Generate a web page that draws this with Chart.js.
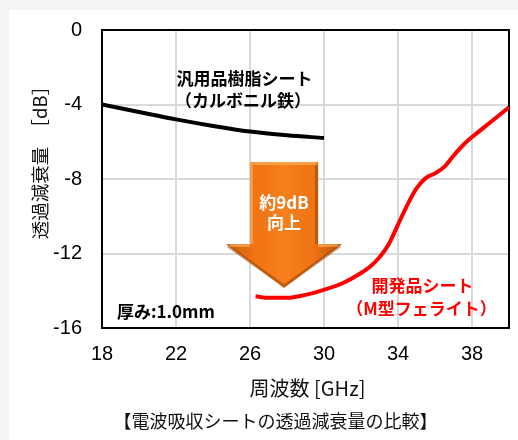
<!DOCTYPE html>
<html><head><meta charset="utf-8">
<script src="https://cdn.jsdelivr.net/npm/chart.js@4.4.1/dist/chart.umd.min.js"></script>
<style>
html,body{margin:0;padding:0;background:#f4f4f4;width:518px;height:440px;overflow:hidden;}
#card{position:absolute;left:9px;top:10px;width:509px;height:430px;background:#fff;}
canvas{display:block}
</style></head><body>
<div id="card"><canvas id="c" width="509" height="430"></canvas></div>
<script>
// ---- data ----
const xTicks = [18, 22, 26, 30, 34, 38];
const yTicks = [0, -4, -8, -12, -16];
const resinFreq = [18, 20, 22, 24, 26, 28, 30];
const resinDb   = [-4.0, -4.4, -4.8, -5.15, -5.45, -5.65, -5.8];
const ferriteFreq = [26.3, 27, 28, 29, 30, 31, 32, 32.5, 33, 33.5, 34, 34.5, 35, 35.5, 36, 36.5, 37, 37.5, 38, 38.5, 39, 39.5, 40];
const ferriteDb   = [-14.3, -14.38, -14.38, -14.22, -13.95, -13.6, -13.05, -12.7, -12.2, -11.5, -10.45, -9.4, -8.5, -7.95, -7.7, -7.35, -6.75, -6.2, -5.75, -5.35, -4.95, -4.55, -4.15];
const seriesNames = ['汎用品樹脂シート（カルボニル鉄）', '開発品シート（M型フェライト）'];
const xTitle = '周波数 [GHz]';
const yTitle = '透過減衰量　［dB］';
const caption = '【電波吸収シートの透過減衰量の比較】';

// annotation texts (data coordinates)
const notes = [
  {t:'汎用品樹脂シート', x:25.70, y:-2.63, c:'#000', a:'center'},
  {t:'（カルボニル鉄）', x:25.62, y:-3.81, c:'#000', a:'center'},
  {t:'開発品シート', x:35.32, y:-13.72, c:'#ff0000', a:'center'},
  {t:'（M型フェライト）', x:35.27, y:-14.95, c:'#ff0000', a:'center'},
  {t:'厚み:1.0mm', x:18.81, y:-15.11, c:'#000', a:'left'},
  {t:'約9dB', x:27.84, y:-9.29, c:'#fff', a:'center'},
  {t:'向上', x:27.84, y:-10.34, c:'#fff', a:'center'}
];
const arrowGeom = {x0:26.0, x1:29.68, hx0:24.70, hx1:30.97, tipX:27.84, top:-7.09, shoulder:-11.49, tip:-13.85};

const JP = '"Noto Sans CJK JP", "Noto Sans", sans-serif';

const framePlugin = {
  id:'frame',
  beforeDatasetsDraw(chart){
    const {ctx, chartArea:a} = chart;
    ctx.save();
    ctx.strokeStyle = '#000'; ctx.lineWidth = 2;
    ctx.beginPath();
    ctx.moveTo(a.left, a.top); ctx.lineTo(a.right, a.top); ctx.lineTo(a.right, a.bottom);
    ctx.stroke();
    ctx.restore();
  }
};

const arrowPlugin = {
  id:'arrow',
  afterDatasetsDraw(chart){
    const {ctx} = chart; const xs = chart.scales.x, ys = chart.scales.y;
    const g = arrowGeom;
    const X = v => xs.getPixelForValue(v), Y = v => ys.getPixelForValue(v);
    const x0=X(g.x0), x1=X(g.x1), hx0=X(g.hx0), hx1=X(g.hx1), tx=X(g.tipX);
    const top=Y(g.top), sh=Y(g.shoulder), tip=Y(g.tip);
    ctx.save();
    const grad = ctx.createLinearGradient(hx0, 0, hx1, 0);
    grad.addColorStop(0, '#c85a08');
    grad.addColorStop(0.25, '#ef7414');
    grad.addColorStop(0.5, '#f77f1c');
    grad.addColorStop(0.75, '#ef7414');
    grad.addColorStop(1, '#b95206');
    ctx.beginPath();
    ctx.moveTo(x0, top); ctx.lineTo(x1, top); ctx.lineTo(x1, sh); ctx.lineTo(hx1, sh);
    ctx.lineTo(tx, tip); ctx.lineTo(hx0, sh); ctx.lineTo(x0, sh); ctx.closePath();
    ctx.fillStyle = grad; ctx.fill();
    ctx.lineWidth = 3;
    ctx.strokeStyle = 'rgba(255,190,110,0.55)';
    ctx.beginPath(); ctx.moveTo(x0+1.5, sh); ctx.lineTo(x0+1.5, top+1.5); ctx.lineTo(x1-1.5, top+1.5); ctx.stroke();
    ctx.beginPath(); ctx.moveTo(hx0+3, sh+1.5); ctx.lineTo(x0, sh+1.5); ctx.stroke();
    ctx.beginPath(); ctx.moveTo(x1, sh+1.5); ctx.lineTo(hx1-3, sh+1.5); ctx.stroke();
    ctx.strokeStyle = 'rgba(150,60,0,0.5)';
    ctx.beginPath(); ctx.moveTo(x1-1.5, top+3); ctx.lineTo(x1-1.5, sh); ctx.stroke();
    ctx.beginPath(); ctx.moveTo(hx1-2, sh+2); ctx.lineTo(tx, tip-2); ctx.lineTo(hx0+2, sh+2); ctx.stroke();
    ctx.restore();
  }
};

const textPlugin = {
  id:'texts',
  afterDraw(chart){
    const {ctx} = chart; const xs = chart.scales.x, ys = chart.scales.y;
    ctx.save();
    ctx.textBaseline = 'middle';
    ctx.font = 'bold 17px ' + JP;
    notes.forEach(n => {
      ctx.fillStyle = n.c; ctx.textAlign = n.a;
      ctx.fillText(n.t, xs.getPixelForValue(n.x), ys.getPixelForValue(n.y));
    });
    ctx.fillStyle = '#111';
    ctx.textAlign = 'center';
    ctx.font = '20px ' + JP;
    ctx.fillText(xTitle, 298.5, 378);
    ctx.font = '18px ' + JP;
    ctx.fillText(caption, 266.5, 411.5);
    ctx.save();
    ctx.translate(31, 148);
    ctx.rotate(-Math.PI/2);
    ctx.font = '18.5px ' + JP;
    ctx.fillText(yTitle, 0, 0);
    ctx.restore();
    ctx.restore();
  }
};

const tickFont = {family:'"Liberation Sans", Arial, sans-serif', size:20};

new Chart(document.getElementById('c'), {
  type:'line',
  data:{
    datasets:[
      {label:seriesNames[0], data:resinFreq.map((f,i)=>({x:f, y:resinDb[i]})), borderColor:'#000', borderWidth:4, pointRadius:0, tension:0.4, cubicInterpolationMode:'monotone', fill:false},
      {label:seriesNames[1], data:ferriteFreq.map((f,i)=>({x:f, y:ferriteDb[i]})), borderColor:'#ff0000', borderWidth:4, pointRadius:0, tension:0.4, cubicInterpolationMode:'monotone', fill:false}
    ]
  },
  options:{
    responsive:false, animation:false,
    layout:{padding:{left:0, top:20, right:9, bottom:0}},
    plugins:{legend:{display:false}, tooltip:{enabled:false}, title:{display:false}},
    scales:{
      x:{type:'linear', min:18, max:40,
        afterBuildTicks(s){ s.ticks = xTicks.map(v=>({value:v})); },
        afterFit(s){ s.height = 112; s.paddingLeft = 0; s.paddingRight = 0; },
        grid:{color:'#d9d9d9', lineWidth:2, drawTicks:false},
        border:{display:true, color:'#000', width:2},
        ticks:{font:tickFont, color:'#000', padding:14, maxRotation:0, autoSkip:false}
      },
      y:{type:'linear', min:-16, max:0,
        afterBuildTicks(s){ s.ticks = yTicks.map(v=>({value:v})); },
        afterFit(s){ s.width = 93; s.paddingTop = 0; s.paddingBottom = 0; },
        grid:{color:'#d9d9d9', lineWidth:2, drawTicks:false},
        border:{display:true, color:'#000', width:2},
        ticks:{font:tickFont, color:'#000', padding:20, autoSkip:false}
      }
    }
  },
  plugins:[framePlugin, arrowPlugin, textPlugin]
});
</script>
</body></html>
